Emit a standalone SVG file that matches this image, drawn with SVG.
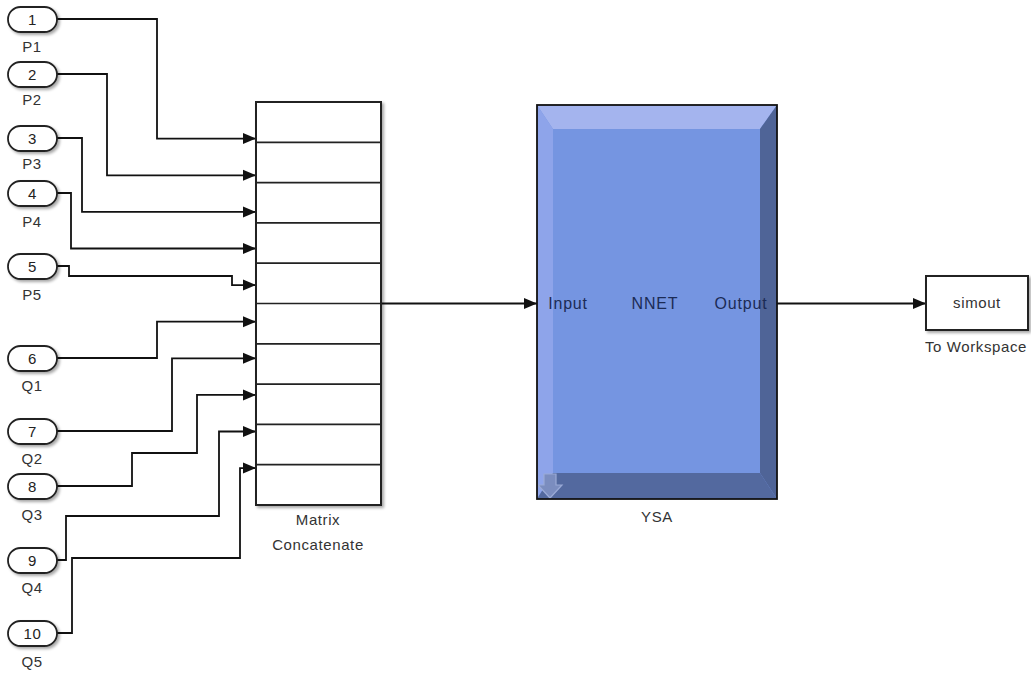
<svg xmlns="http://www.w3.org/2000/svg" width="1031" height="673" viewBox="0 0 1031 673">
<style>
  text { font-family: "Liberation Sans", Arial, sans-serif; font-size: 15px; fill: #333; letter-spacing: 0.6px; }
  .num { text-anchor: middle; fill: #222; }
  .lbl { text-anchor: middle; }
  .port { fill: #fff; stroke: #222; stroke-width: 1.8; }
  .blk { fill: #fff; stroke: #222; stroke-width: 2; }
  .div { stroke: #222; stroke-width: 1.7; }
  .wire { fill: none; stroke: #111; stroke-width: 1.8; }
  .nn { text-anchor: middle; fill: #1c2b55; letter-spacing: 0.8px; font-size: 16px; }
</style>
<defs>
  <marker id="arr" markerUnits="userSpaceOnUse" markerWidth="13" markerHeight="12" refX="13" refY="6" orient="auto">
    <path d="M0,0.5 L13,6 L0,11.5 z" fill="#111"/>
  </marker>
  <filter id="sh" x="-20%" y="-20%" width="150%" height="160%">
    <feGaussianBlur in="SourceAlpha" stdDeviation="1.5"/>
    <feOffset dx="1.5" dy="1.5" result="b"/>
    <feComponentTransfer><feFuncA type="linear" slope="0.35"/></feComponentTransfer>
    <feMerge><feMergeNode/><feMergeNode in="SourceGraphic"/></feMerge>
  </filter>
</defs>
<rect width="1031" height="673" fill="#fff"/>

<g id="connectors">
  <path class="wire" d="M57,19 H157 V138.6 H256" marker-end="url(#arr)"/>
  <path class="wire" d="M57,74 H107 V175.3 H256" marker-end="url(#arr)"/>
  <path class="wire" d="M57,138 H82 V211.9 H256" marker-end="url(#arr)"/>
  <path class="wire" d="M57,193 H71 V248.5 H256" marker-end="url(#arr)"/>
  <path class="wire" d="M57,266 H69 V276 H232 V285.1 H256" marker-end="url(#arr)"/>
  <path class="wire" d="M57,358 H157 V321.7 H256" marker-end="url(#arr)"/>
  <path class="wire" d="M57,431 H172 V358.3 H256" marker-end="url(#arr)"/>
  <path class="wire" d="M57,486 H132 V453 H197 V394.9 H256" marker-end="url(#arr)"/>
  <path class="wire" d="M57,560 H66 V516 H219 V431.5 H256" marker-end="url(#arr)"/>
  <path class="wire" d="M57,633 H72 V558 H240 V468.1 H256" marker-end="url(#arr)"/>
  <path class="wire" d="M381,303.5 H537" marker-end="url(#arr)"/>
  <path class="wire" d="M777,303.5 H926" marker-end="url(#arr)"/>
</g>

<g id="in1"><rect class="port" x="8" y="7" width="49" height="25" rx="12.5" filter="url(#sh)"/><text class="num" x="32.5" y="24.5">1</text><text class="lbl" x="32" y="52">P1</text></g>
<g id="in2"><rect class="port" x="8" y="62" width="49" height="25" rx="12.5" filter="url(#sh)"/><text class="num" x="32.5" y="79.5">2</text><text class="lbl" x="32" y="105">P2</text></g>
<g id="in3"><rect class="port" x="8" y="126" width="49" height="25" rx="12.5" filter="url(#sh)"/><text class="num" x="32.5" y="143.5">3</text><text class="lbl" x="32" y="169">P3</text></g>
<g id="in4"><rect class="port" x="8" y="181" width="49" height="25" rx="12.5" filter="url(#sh)"/><text class="num" x="32.5" y="198.5">4</text><text class="lbl" x="32" y="227">P4</text></g>
<g id="in5"><rect class="port" x="8" y="254" width="49" height="25" rx="12.5" filter="url(#sh)"/><text class="num" x="32.5" y="271.5">5</text><text class="lbl" x="32" y="300">P5</text></g>
<g id="in6"><rect class="port" x="8" y="346" width="49" height="25" rx="12.5" filter="url(#sh)"/><text class="num" x="32.5" y="363.5">6</text><text class="lbl" x="32" y="391">Q1</text></g>
<g id="in7"><rect class="port" x="8" y="419" width="49" height="25" rx="12.5" filter="url(#sh)"/><text class="num" x="32.5" y="436.5">7</text><text class="lbl" x="32" y="464">Q2</text></g>
<g id="in8"><rect class="port" x="8" y="474" width="49" height="25" rx="12.5" filter="url(#sh)"/><text class="num" x="32.5" y="491.5">8</text><text class="lbl" x="32" y="520">Q3</text></g>
<g id="in9"><rect class="port" x="8" y="548" width="49" height="25" rx="12.5" filter="url(#sh)"/><text class="num" x="32.5" y="565.5">9</text><text class="lbl" x="32" y="593">Q4</text></g>
<g id="in10"><rect class="port" x="8" y="621" width="49" height="25" rx="12.5" filter="url(#sh)"/><text class="num" x="32.5" y="638.5">10</text><text class="lbl" x="32" y="667">Q5</text></g>

<g id="concat">
  <rect class="blk" x="256" y="102" width="125" height="403" filter="url(#sh)"/>
  <path class="div" d="M256,142.3 H381 M256,182.6 H381 M256,222.9 H381 M256,263.2 H381 M256,303.5 H381 M256,343.8 H381 M256,384.1 H381 M256,424.4 H381 M256,464.7 H381"/>
  <text class="lbl" x="318" y="525">Matrix</text>
  <text class="lbl" x="318" y="550">Concatenate</text>
</g>

<g id="ysa">
  <rect x="537" y="105" width="240" height="394" fill="#7595E1"/>
  <polygon points="537,105 777,105 760,129 553,129" fill="#A4B4EE"/>
  <polygon points="537,105 553,129 553,473 537,499" fill="#8EA4EA"/>
  <polygon points="777,105 777,499 760,473 760,129" fill="#4F6497"/>
  <polygon points="537,499 553,473 760,473 777,499" fill="#53699F"/>
  <polygon points="544,474 556,474 556,485 562,485 550,498 538,485 544,485" fill="#7B8DBF" stroke="#9AAAD6" stroke-width="1.2"/>
  <rect x="537" y="105" width="240" height="394" fill="none" stroke="#111" stroke-width="1.8"/>
  <text class="nn" x="568" y="309">Input</text>
  <text class="nn" x="655" y="309">NNET</text>
  <text class="nn" x="741" y="309">Output</text>
  <text class="lbl" x="657" y="522">YSA</text>
</g>

<g id="toworkspace">
  <rect class="blk" x="926" y="276" width="102" height="54" filter="url(#sh)"/>
  <text class="lbl" x="977" y="308">simout</text>
  <text class="lbl" x="976" y="352">To Workspace</text>
</g>
</svg>
